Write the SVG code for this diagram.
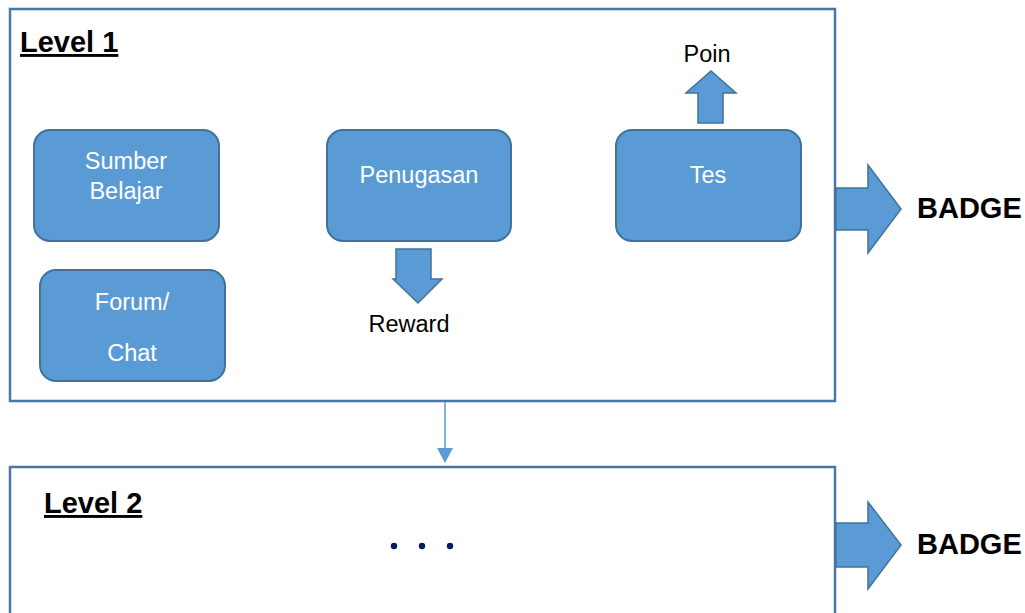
<svg xmlns="http://www.w3.org/2000/svg" width="1025" height="613" viewBox="0 0 1025 613">
<defs>
<style>
.frame{fill:#fff;stroke:#4a76a8;stroke-width:2.5}
.node{fill:#5b9bd5;stroke:#41719c;stroke-width:2}
.arr{fill:#5b9bd5;stroke:#41719c;stroke-width:1.5;stroke-linejoin:miter}
.nt{font-family:"Liberation Sans",Arial,sans-serif;font-size:23.5px;fill:#fff;text-anchor:middle}
.lt{font-family:"Liberation Sans",Arial,sans-serif;font-size:23.5px;fill:#000;text-anchor:middle}
.hd{font-family:"Liberation Sans",Arial,sans-serif;font-size:29px;font-weight:bold;fill:#000;text-decoration:underline}
.bd{font-family:"Liberation Sans",Arial,sans-serif;font-size:29px;font-weight:bold;fill:#000}
</style>
</defs>
<g id="level1">
<rect class="frame" x="10" y="9" width="825" height="392"/>
<text class="hd" x="20" y="52">Level 1</text>
</g>
<g id="level2">
<rect class="frame" x="10" y="467" width="825" height="160"/>
<text class="hd" x="44" y="513">Level 2</text>
<g fill="#002060">
<circle cx="394" cy="546" r="3.2"/>
<circle cx="422" cy="546" r="3.2"/>
<circle cx="450" cy="546" r="3.2"/>
</g>
</g>
<g id="sumber">
<rect class="node" x="34" y="130" width="185" height="111" rx="16"/>
<text class="nt" x="126" y="169">Sumber</text>
<text class="nt" x="126" y="199">Belajar</text>
</g>
<g id="forum">
<rect class="node" x="40" y="270" width="185" height="111" rx="16"/>
<text class="nt" x="132" y="310">Forum/</text>
<text class="nt" x="132" y="361">Chat</text>
</g>
<g id="penugasan">
<rect class="node" x="327" y="130" width="184" height="111" rx="16"/>
<text class="nt" x="419" y="183">Penugasan</text>
</g>
<g id="tes">
<rect class="node" x="616" y="130" width="185" height="111" rx="16"/>
<text class="nt" x="708" y="183">Tes</text>
</g>
<g id="reward">
<path class="arr" d="M396,249 L431,249 L431,279 L442,279 L418,303 L393,279 L396,279 Z"/>
<text class="lt" x="409" y="332">Reward</text>
</g>
<g id="poin">
<path class="arr" d="M698,123 L723,123 L723,93 L736,93 L711,71 L686,93 L698,93 Z"/>
<text class="lt" x="707" y="62">Poin</text>
</g>
<g id="badge1">
<path class="arr" d="M836,188 L868,188 L868,165 L901,209 L868,253 L868,230 L836,230 Z"/>
<text class="bd" x="917" y="218">BADGE</text>
</g>
<g id="badge2">
<path class="arr" d="M836,523 L868,523 L868,502 L901,545 L868,589 L868,567 L836,567 Z"/>
<text class="bd" x="917" y="554">BADGE</text>
</g>
<g id="connectors">
<line x1="445" y1="402" x2="445" y2="449" stroke="#5b9bd5" stroke-width="1.5"/>
<polygon points="437,448 453,448 445,463" fill="#5b9bd5"/>
</g>
</svg>
